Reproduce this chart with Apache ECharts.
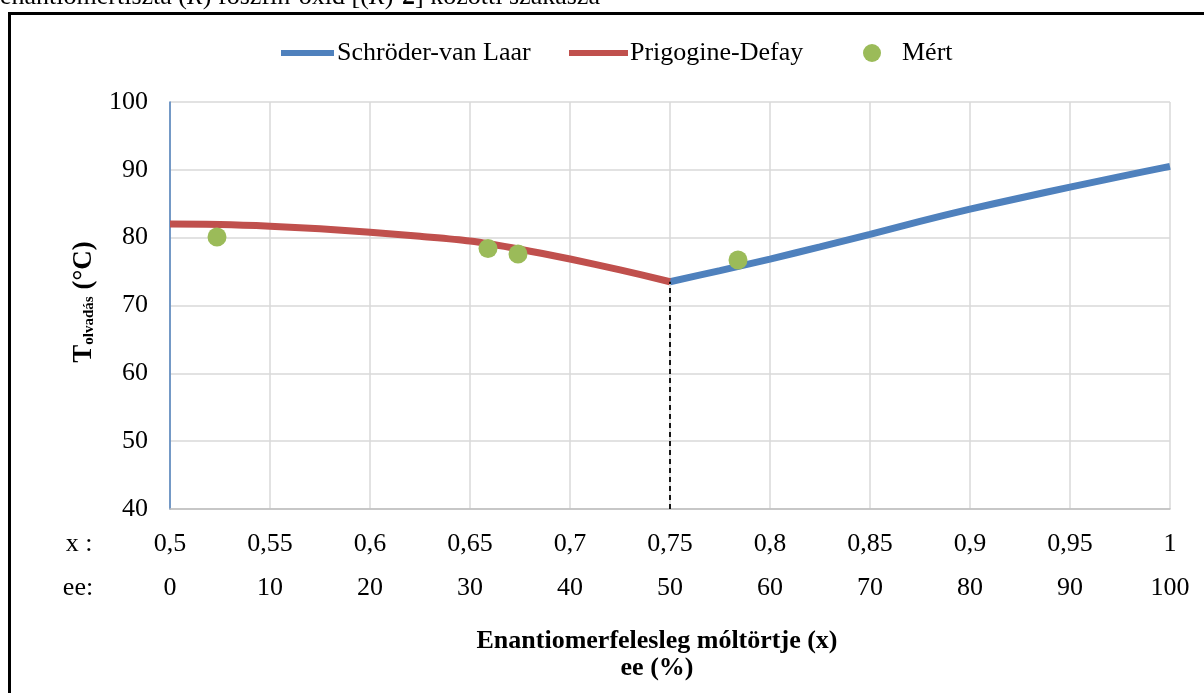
<!DOCTYPE html>
<html>
<head>
<meta charset="utf-8">
<script src="https://cdn.jsdelivr.net/npm/echarts@6/dist/echarts.min.js"></script>
<style>
html,body{margin:0;padding:0;background:#fff;}
#chart{width:1204px;height:693px;}
</style>
</head>
<body>
<div id="chart"></div>
<script>
// Prigogine-Defay curve (x mole fraction, T °C)
const pdX = [0.5, 0.525, 0.55, 0.575, 0.6, 0.625, 0.65, 0.675, 0.7, 0.725, 0.75];
const pdT = [82.0, 81.95, 81.7, 81.3, 80.8, 80.2, 79.5, 78.3, 76.85, 75.25, 73.5];
// Schröder-van Laar curve
const svlX = [0.75, 0.775, 0.8, 0.825, 0.85, 0.875, 0.9, 0.925, 0.95, 0.975, 1.0];
const svlT = [73.5, 75.15, 76.85, 78.65, 80.5, 82.4, 84.2, 85.85, 87.45, 89.0, 90.5];
// Measured points
const mX = [0.5235, 0.659, 0.674, 0.784];
const mT = [80.1, 78.4, 77.6, 76.7];
// Eutectic point (dashed marker)
const eutX = 0.75, eutT = 73.5;
// axis ticks
const xMin = 0.5, xMax = 1.0, xStep = 0.05;
const eeMin = 0, eeMax = 100, eeStep = 10;
const yMin = 40, yMax = 100, yStep = 10;

const seriesNames = ['Schröder-van Laar', 'Prigogine-Defay', 'Mért'];
const FONT = 'Liberation Serif';
const FS = 26;

const chart = echarts.init(document.getElementById('chart'));
const zip = (a, b) => a.map((v, i) => [v, b[i]]);

const option = {
  animation: false,
  backgroundColor: '#fff',
  grid: { left: 170, right: 34, top: 102, bottom: 184, containLabel: false },
  legend: [
    { data: [{ name: seriesNames[0], icon: 'rect' }], left: 276, top: 35, itemWidth: 53, itemHeight: 6, itemGap: 4,
      textStyle: { fontFamily: FONT, fontSize: FS, color: '#000', padding: [0, 0, 0, -2] } },
    { data: [{ name: seriesNames[1], icon: 'rect' }], left: 564, top: 35, itemWidth: 59, itemHeight: 6, itemGap: 4,
      textStyle: { fontFamily: FONT, fontSize: FS, color: '#000', padding: [0, 0, 0, -3] } },
    { data: [{ name: seriesNames[2], icon: 'circle' }], left: 858, top: 35, itemWidth: 18, itemHeight: 18,
      textStyle: { fontFamily: FONT, fontSize: FS, color: '#000', padding: [0, 0, 0, 16] } }
  ],
  xAxis: [
    {
      type: 'value', min: xMin, max: xMax, interval: xStep, position: 'bottom',
      axisLine: { show: true, lineStyle: { color: '#bfbfbf', width: 1.5 } },
      axisTick: { show: false },
      splitLine: { show: true, lineStyle: { color: '#d9d9d9', width: 1.5 } },
      axisLabel: { fontFamily: FONT, fontSize: FS, color: '#000', margin: 22,
        formatter: v => String(+v.toFixed(2)).replace('.', ',') }
    },
    {
      type: 'value', min: eeMin, max: eeMax, interval: eeStep, position: 'bottom', offset: 44,
      axisLine: { show: false }, axisTick: { show: false }, splitLine: { show: false },
      axisLabel: { fontFamily: FONT, fontSize: FS, color: '#000', margin: 22 }
    }
  ],
  yAxis: {
    type: 'value', min: yMin, max: yMax, interval: yStep,
    axisLine: { show: true, lineStyle: { color: '#4f81bd', width: 1.5 } },
    axisTick: { show: false },
    splitLine: { show: true, lineStyle: { color: '#d9d9d9', width: 1.5 } },
    axisLabel: { fontFamily: FONT, fontSize: FS, color: '#000', margin: 22 }
  },
  series: [
    {
      name: seriesNames[0], type: 'line', xAxisIndex: 0, data: zip(svlX, svlT), smooth: 0.3,
      symbol: 'none', color: '#4f81bd', lineStyle: { width: 7, color: '#4f81bd' }, z: 3
    },
    {
      name: seriesNames[1], type: 'line', xAxisIndex: 0, data: zip(pdX, pdT), smooth: 0.3,
      symbol: 'none', color: '#c0504d', lineStyle: { width: 7, color: '#c0504d' }, z: 3,
      markLine: {
        silent: true, symbol: 'none', label: { show: false },
        lineStyle: { color: '#000', type: [5, 4], width: 1.8 },
        data: [[{ coord: [eutX, yMin] }, { coord: [eutX, eutT] }]]
      }
    },
    {
      name: seriesNames[2], type: 'scatter', xAxisIndex: 0, data: zip(mX, mT),
      symbol: 'circle', symbolSize: 19, color: '#9bbb59', itemStyle: { color: '#9bbb59', opacity: 1 }, z: 4
    }
  ],
  graphic: [
    { type: 'rect', shape: { x: 9.5, y: 13.5, width: 1300, height: 800 },
      style: { fill: 'none', stroke: '#000', lineWidth: 3 }, z: 100 },
    { type: 'text', left: 0, top: -16,
      style: { text: '{n|enantiomertiszta (}{i|R}{n|) foszfin-oxid [(}{i|R}{n|)-}{b|2}{n|] közötti szakasza}',
        rich: { n: { fontFamily: FONT, fontSize: FS, fill: '#000' },
                i: { fontFamily: FONT, fontSize: FS, fontStyle: 'italic', fill: '#000' },
                b: { fontFamily: FONT, fontSize: FS, fontWeight: 'bold', fill: '#000' } } } },
    { type: 'text', x: 79, y: 544,
      style: { text: 'x :', fontFamily: FONT, fontSize: FS, fill: '#000', align: 'center', verticalAlign: 'middle' } },
    { type: 'text', x: 78, y: 588,
      style: { text: 'ee:', fontFamily: FONT, fontSize: FS, fill: '#000', align: 'center', verticalAlign: 'middle' } },
    { type: 'text', x: 657, y: 641,
      style: { text: 'Enantiomerfelesleg móltörtje (x)', fontFamily: FONT, fontSize: 26, fontWeight: 'bold', fill: '#000', align: 'center', verticalAlign: 'middle' } },
    { type: 'text', x: 657, y: 668,
      style: { text: 'ee (%)', fontFamily: FONT, fontSize: 26, fontWeight: 'bold', fill: '#000', align: 'center', verticalAlign: 'middle' } },
    { type: 'text', x: 84, y: 302, rotation: Math.PI / 2,
      style: { text: '{t|T}{s|olvadás}{t| (°C)}', align: 'center', verticalAlign: 'middle',
        rich: { t: { fontFamily: FONT, fontSize: 27, fontWeight: 'bold', fill: '#000' },
                s: { fontFamily: FONT, fontSize: 15, fontWeight: 'bold', fill: '#000', padding: [11, 0, 0, 0] } } } }
  ]
};
chart.setOption(option);
</script>
</body>
</html>
